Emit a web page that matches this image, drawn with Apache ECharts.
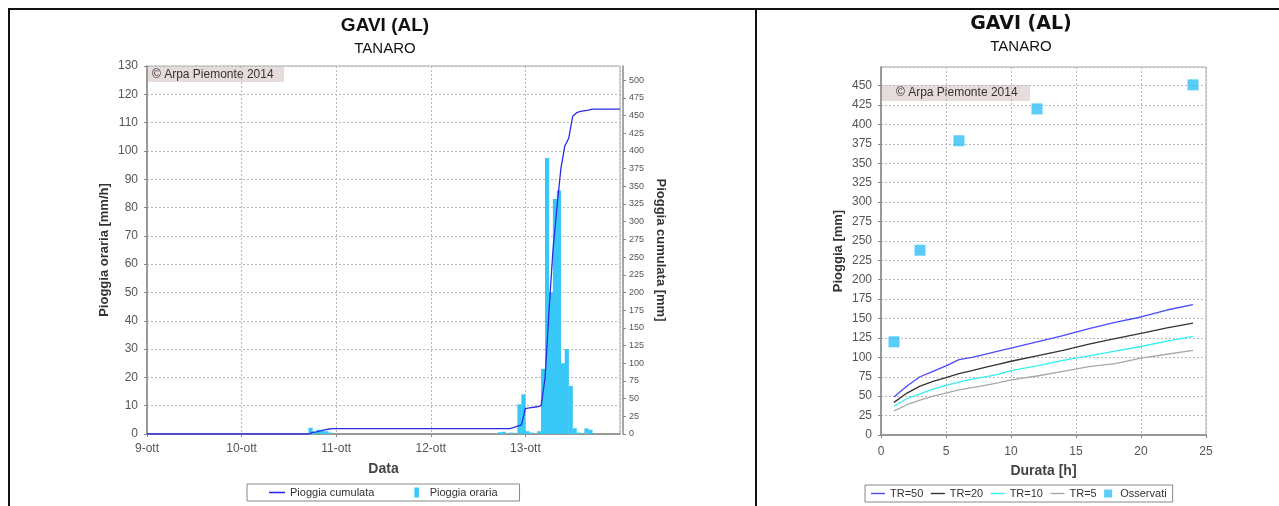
<!DOCTYPE html>
<html><head><meta charset="utf-8">
<script src="https://cdn.jsdelivr.net/npm/echarts@6/dist/echarts.min.js"></script>
<style>html,body{margin:0;padding:0;background:#fff;}#c{width:1279px;height:506px;}</style>
</head><body><div id="c"></div>
<script>
// ---- Left chart data (GAVI, 9-14 ottobre 2014) ----
const dayTicks = ['9-ott', '10-ott', '11-ott', '12-ott', '13-ott', '14-ott'];
const hourlyTime = ['10-ott 17:00','10-ott 18:00','10-ott 19:00','10-ott 20:00','10-ott 21:00','10-ott 22:00',
  '12-ott 17:00','12-ott 18:00','12-ott 20:00','12-ott 22:00','12-ott 23:00',
  '13-ott 00:00','13-ott 01:00','13-ott 03:00','13-ott 04:00','13-ott 05:00','13-ott 06:00','13-ott 07:00',
  '13-ott 08:00','13-ott 09:00','13-ott 10:00','13-ott 11:00','13-ott 12:00','13-ott 13:00','13-ott 15:00','13-ott 16:00'];
const hourlyRain = [2.2, 0.8, 1.5, 1.2, 1.0, 0.5,
  0.6, 0.8, 0.5, 10.5, 14,
  1.0, 0.5, 1.0, 23, 97.5, 50, 83,
  86, 25, 30, 17, 2, 0.5, 2, 1.5];
const cumTime = ['9-ott 00:00','10-ott 17:00','10-ott 18:00','10-ott 19:00','10-ott 20:00','10-ott 21:00','10-ott 22:00','10-ott 23:00',
  '12-ott 20:00','12-ott 21:00','12-ott 22:00','12-ott 23:00','13-ott 00:00','13-ott 01:00','13-ott 03:00','13-ott 04:00',
  '13-ott 05:00','13-ott 06:00','13-ott 07:00','13-ott 08:00','13-ott 09:00','13-ott 10:00','13-ott 11:00','13-ott 12:00',
  '13-ott 13:00','13-ott 14:00','13-ott 16:00','13-ott 17:00','14-ott 00:00'];
const cumRain = [0, 0, 2.2, 3.0, 4.5, 5.7, 6.7, 7.6,
  7.6, 9, 11, 13, 36, 37, 38.5, 40,
  80, 175, 260, 320, 375, 407, 418, 449,
  454, 456, 457.5, 459, 459];

// ---- Right chart data (durata-pioggia) ----
const durata = [1, 2, 3, 4, 5, 6, 7, 8, 9, 10, 12, 14, 16, 18, 20, 22, 24];
const tr50 = [49, 63, 75, 82, 89, 97, 100, 104, 108, 112, 120, 128, 137, 145, 152, 161, 168];
const tr20 = [42, 54, 63, 69, 74, 79, 83, 87, 91, 95, 102, 109, 117, 124, 131, 138, 144];
const tr10 = [37, 47, 53, 59, 64, 68, 72, 75, 78, 83, 89, 96, 102, 108, 114, 121, 127];
const tr5 = [31, 39, 45, 50, 54, 58, 61, 64, 67, 71, 76, 82, 88, 92, 99, 104, 109];
const obsDurata = [1, 3, 6, 12, 24];
const obsPioggia = [120, 238, 379, 420, 451];

// hours since 9-ott 00:00
function hrs(s) { const p = s.split(' '); const d = parseInt(p[0], 10); const hm = p[1].split(':'); return (d - 9) * 24 + parseInt(hm[0], 10) + parseInt(hm[1], 10) / 60; }
const barData = hourlyTime.map((t, i) => [hrs(t) + 0.5, hourlyRain[i]]);
const cumData = cumTime.map((t, i) => [hrs(t), cumRain[i]]);
const pair = (xs, ys) => xs.map((x, i) => [x, ys[i]]);

const FONT = 'Liberation Sans, Arial, sans-serif';
const LINE_ICON = 'path://M0,0 H16 V1.6 H0 Z';
const gridLine = { show: true, lineStyle: { type: [2, 2], color: '#b8b8b8', width: 1 } };
const axLine = { show: true, lineStyle: { color: '#888', width: 1.5 } };
const tick = { show: true, length: 3, lineStyle: { color: '#888' } };

const chart = echarts.init(document.getElementById('c'));
chart.setOption({
  animation: false,
  textStyle: { fontFamily: FONT },
  title: [
    { text: 'GAVI (AL)', subtext: 'TANARO', left: 380, top: 11, textAlign: 'center', itemGap: 6,
      textStyle: { fontFamily: FONT, fontWeight: 'bold', fontSize: 19, color: '#111' },
      subtextStyle: { fontFamily: FONT, fontSize: 15, color: '#111' } },
    { text: 'GAVI (AL)', subtext: 'TANARO', left: 1016, top: 10, textAlign: 'center', itemGap: 5,
      textStyle: { fontFamily: 'DejaVu Sans, sans-serif', fontWeight: 'bold', fontSize: 19, color: '#111' },
      subtextStyle: { fontFamily: FONT, fontSize: 15, color: '#111' } }
  ],
  legend: [
    { left: 247, top: 484, padding: [3, 22], itemGap: 40, itemWidth: 16, itemHeight: 10,
      borderColor: '#888', borderWidth: 1, borderRadius: 0,
      textStyle: { fontSize: 11, color: '#333', fontFamily: FONT },
      data: [{ name: 'Pioggia cumulata', icon: LINE_ICON }, { name: 'Pioggia oraria', icon: 'path://M0,0 H5 V11 H0 Z' }] },
    { left: 865, top: 485, padding: [3, 6], itemGap: 7.5, itemWidth: 14, itemHeight: 8,
      borderColor: '#888', borderWidth: 1, borderRadius: 0,
      textStyle: { fontSize: 11, color: '#333', fontFamily: FONT },
      data: [{ name: 'TR=50', icon: LINE_ICON }, { name: 'TR=20', icon: LINE_ICON }, { name: 'TR=10', icon: LINE_ICON },
             { name: 'TR=5', icon: LINE_ICON }, { name: 'Osservati', icon: 'path://M0,0 H8 V8 H0 Z' }] }
  ],
  grid: [
    { left: 147, right: 659, top: 66, bottom: 72, show: true, borderColor: '#aaa', borderWidth: 1, backgroundColor: '#fff' },
    { left: 881, right: 73, top: 67, bottom: 71, show: true, borderColor: '#aaa', borderWidth: 1, backgroundColor: '#fff' }
  ],
  xAxis: [
    { gridIndex: 0, type: 'value', min: 0, max: 120, interval: 24, offset: 4,
      name: 'Data', nameLocation: 'middle', nameGap: 24,
      nameTextStyle: { fontWeight: 'bold', fontSize: 14, color: '#444' },
      axisLine: axLine, axisTick: tick, splitLine: gridLine,
      axisLabel: { showMaxLabel: false, fontSize: 12, color: '#555', margin: 5, formatter: v => dayTicks[Math.round(v / 24)] } },
    { gridIndex: 1, type: 'value', min: 0, max: 25, interval: 5, offset: 3,
      name: 'Durata [h]', nameLocation: 'middle', nameGap: 26,
      nameTextStyle: { fontWeight: 'bold', fontSize: 14, color: '#444' },
      axisLine: axLine, axisTick: tick, splitLine: gridLine,
      axisLabel: { fontSize: 12, color: '#555', margin: 8 } }
  ],
  yAxis: [
    { gridIndex: 0, type: 'value', min: 0, max: 130, interval: 10, offset: 4,
      name: 'Pioggia oraria [mm/h]', nameLocation: 'middle', nameGap: 32,
      nameTextStyle: { fontWeight: 'bold', fontSize: 13, color: '#333' },
      axisLine: axLine, axisTick: tick, splitLine: gridLine,
      axisLabel: { fontSize: 12, color: '#555', margin: 5 } },
    { gridIndex: 0, type: 'value', position: 'right', min: 0, max: 520, interval: 25, offset: 3,
      name: 'Pioggia cumulata [mm]', nameLocation: 'middle', nameGap: 31, nameRotate: -90,
      nameTextStyle: { fontWeight: 'bold', fontSize: 13, color: '#333' },
      axisLine: axLine, axisTick: tick, splitLine: { show: false },
      axisLabel: { showMaxLabel: false, fontSize: 9, color: '#555', margin: 6 } },
    { gridIndex: 1, type: 'value', min: 0, max: 474, interval: 25, offset: 4,
      name: 'Pioggia [mm]', nameLocation: 'middle', nameGap: 32,
      nameTextStyle: { fontWeight: 'bold', fontSize: 13, color: '#333' },
      axisLine: axLine, axisTick: tick, splitLine: gridLine,
      axisLabel: { showMaxLabel: false, fontSize: 12, color: '#555', margin: 5 } }
  ],
  series: [
    { name: 'Pioggia oraria', type: 'bar', xAxisIndex: 0, yAxisIndex: 0, data: barData, barWidth: 4.2,
      itemStyle: { color: '#38c8f8' } },
    { name: 'Pioggia cumulata', type: 'line', xAxisIndex: 0, yAxisIndex: 1, data: cumData, symbol: 'none',
      lineStyle: { color: '#2a2ae8', width: 1.3 }, itemStyle: { color: '#2a2ae8' }, z: 3 },
    { name: 'TR=50', type: 'line', xAxisIndex: 1, yAxisIndex: 2, data: pair(durata, tr50), symbol: 'none',
      lineStyle: { color: '#4a4aff', width: 1.3 }, itemStyle: { color: '#4a4aff' } },
    { name: 'TR=20', type: 'line', xAxisIndex: 1, yAxisIndex: 2, data: pair(durata, tr20), symbol: 'none',
      lineStyle: { color: '#333333', width: 1.3 }, itemStyle: { color: '#333333' } },
    { name: 'TR=10', type: 'line', xAxisIndex: 1, yAxisIndex: 2, data: pair(durata, tr10), symbol: 'none',
      lineStyle: { color: '#33f0f0', width: 1.3 }, itemStyle: { color: '#33f0f0' } },
    { name: 'TR=5', type: 'line', xAxisIndex: 1, yAxisIndex: 2, data: pair(durata, tr5), symbol: 'none',
      lineStyle: { color: '#a8a8a8', width: 1.3 }, itemStyle: { color: '#a8a8a8' } },
    { name: 'Osservati', type: 'scatter', xAxisIndex: 1, yAxisIndex: 2, data: pair(obsDurata, obsPioggia),
      symbol: 'rect', symbolSize: 11, itemStyle: { color: '#30c0f5' } }
  ],
  graphic: [
    { type: 'line', shape: { x1: 8, y1: 9, x2: 1279, y2: 9 }, style: { stroke: '#111', lineWidth: 2 } },
    { type: 'line', shape: { x1: 9, y1: 8, x2: 9, y2: 506 }, style: { stroke: '#111', lineWidth: 2 } },
    { type: 'line', shape: { x1: 756, y1: 8, x2: 756, y2: 506 }, style: { stroke: '#111', lineWidth: 2 } },
    { type: 'group', left: 148, top: 67, z: 10, children: [
      { type: 'rect', shape: { x: 0, y: 0, width: 136, height: 15 }, style: { fill: '#e6dcdc' } },
      { type: 'text', x: 4, y: 2, style: { text: '© Arpa Piemonte 2014', font: '12px ' + FONT, fill: '#333' } } ] },
    { type: 'group', left: 882, top: 85, z: 10, children: [
      { type: 'rect', shape: { x: 0, y: 0, width: 148, height: 16 }, style: { fill: '#e6dcdc' } },
      { type: 'text', x: 14, y: 2, style: { text: '© Arpa Piemonte 2014', font: '12px ' + FONT, fill: '#333' } } ] }
  ]
});
</script></body></html>
